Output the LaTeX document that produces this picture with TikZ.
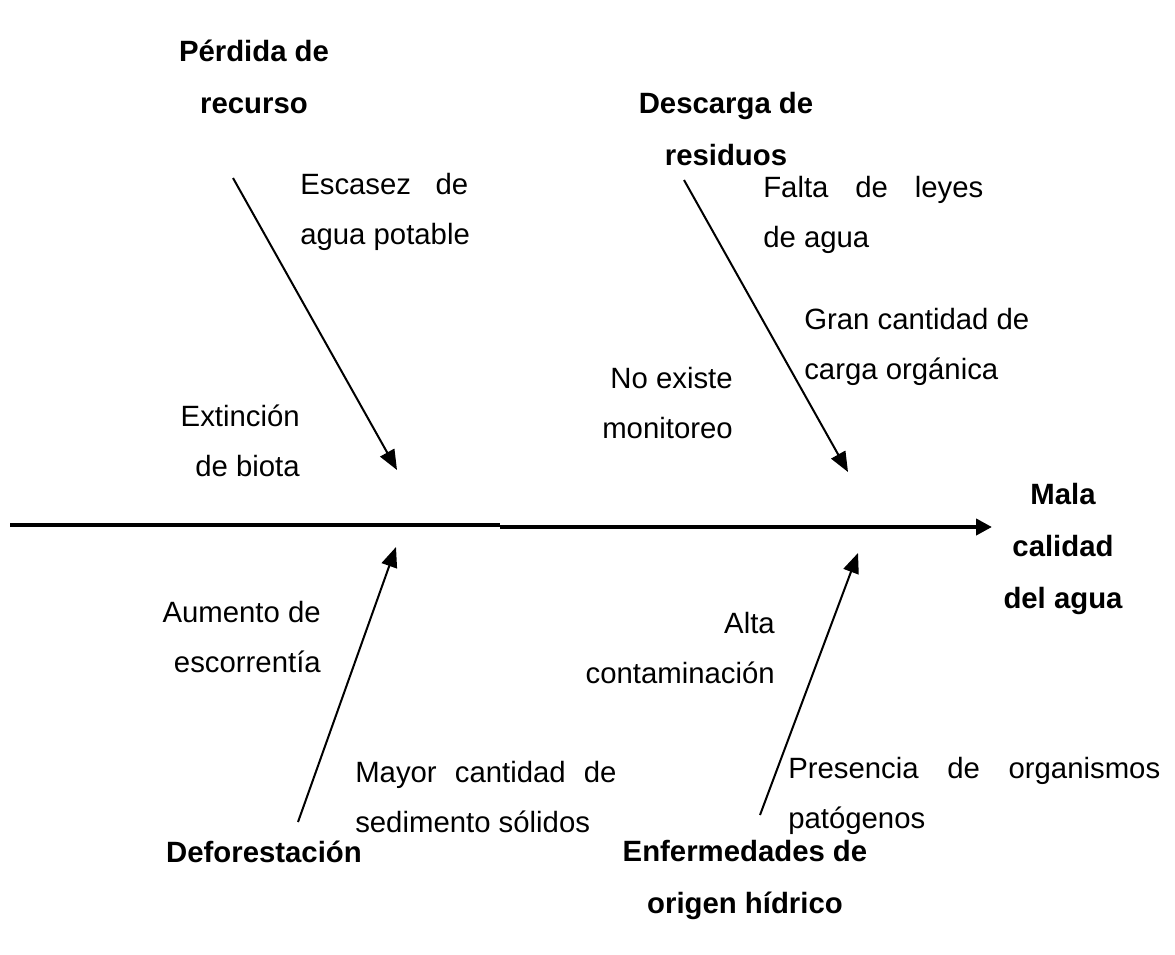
\documentclass[tikz,border=0pt]{standalone}
\usepackage{fontspec}
\setmainfont{Liberation Sans}
\usetikzlibrary{arrows.meta}
\newcommand{\spreadline}[2]{\makebox[#1][s]{#2}}
\tikzset{
  txt/.style={inner sep=0pt, font=\fontsize{22pt}{37.5pt}\selectfont},
  cabeza/.style={inner sep=0pt, align=center, font=\fontsize{22pt}{39pt}\selectfont\bfseries},
  rama/.style={line width=1.5pt, -{Triangle[length=15pt,width=12pt]}},
  espina/.style={line width=3pt},
}
\begin{document}
\begin{tikzpicture}[x=0.75pt,y=-0.75pt]
    \useasboundingbox (0,0) rectangle (1175,954);

    % Espina principal
    \coordinate (inicio) at (10,525);
    \coordinate (quiebre) at (500,525);
    \coordinate (quiebreB) at (500,527);
    \coordinate (punta) at (992,527);
    \draw[espina] (inicio) -- (quiebre);
    \draw[espina, -{Triangle[length=12pt,width=12pt]}] (quiebreB) -- (punta);

    % Causas principales
    \node[cabeza] (perdida) at (254,77) {Pérdida de\\recurso};
    \node[cabeza] (descarga) at (726,129) {Descarga de\\residuos};
    \node[cabeza] (deforestacion) at (264,852) {Deforestación};
    \node[cabeza] (enfermedades) at (745,880) {Enfermedades de\\origen hídrico};
    \node[cabeza] (mala) at (1063,549) {Mala\\calidad\\del agua};

    % Ramas
    \coordinate (perdidaCola) at (233,178);
    \coordinate (perdidaPunta) at (397,470);
    \coordinate (descargaCola) at (684,180);
    \coordinate (descargaPunta) at (848,472);
    \coordinate (deforestacionCola) at (298,822);
    \coordinate (deforestacionPunta) at (396,547);
    \coordinate (enfermedadesCola) at (760,815);
    \coordinate (enfermedadesPunta) at (858,553);
    \draw[rama] (perdidaCola) -- (perdidaPunta);
    \draw[rama] (descargaCola) -- (descargaPunta);
    \draw[rama] (deforestacionCola) -- (deforestacionPunta);
    \draw[rama] (enfermedadesCola) -- (enfermedadesPunta);

    % Subcausas arriba
    \node[txt, anchor=west, align=left] (escasez) at (300,212) {\spreadline{126pt}{Escasez de}\\agua potable};
    \node[txt, anchor=east, align=right] (extincion) at (300,441) {Extinción\\de biota};
    \node[txt, anchor=west, align=left] (falta) at (763,215) {\spreadline{165pt}{Falta de leyes}\\de agua};
    \node[txt, anchor=west, align=left] (gran) at (804,347) {Gran cantidad de\\carga orgánica};
    \node[txt, anchor=east, align=right] (noexiste) at (733,403) {No existe\\monitoreo};

    % Subcausas abajo
    \node[txt, anchor=east, align=right] (aumento) at (321,637) {Aumento de\\escorrentía};
    \node[txt, anchor=west, align=left] (mayor) at (355,797) {\spreadline{196pt}{Mayor cantidad de}\\sedimento sólidos};
    \node[txt, anchor=east, align=right] (alta) at (775,648) {Alta\\contaminación};
    \node[txt, anchor=west, align=left] (presencia) at (788,796) {\spreadline{279pt}{Presencia de organismos}\\patógenos};
\end{tikzpicture}
\end{document}
